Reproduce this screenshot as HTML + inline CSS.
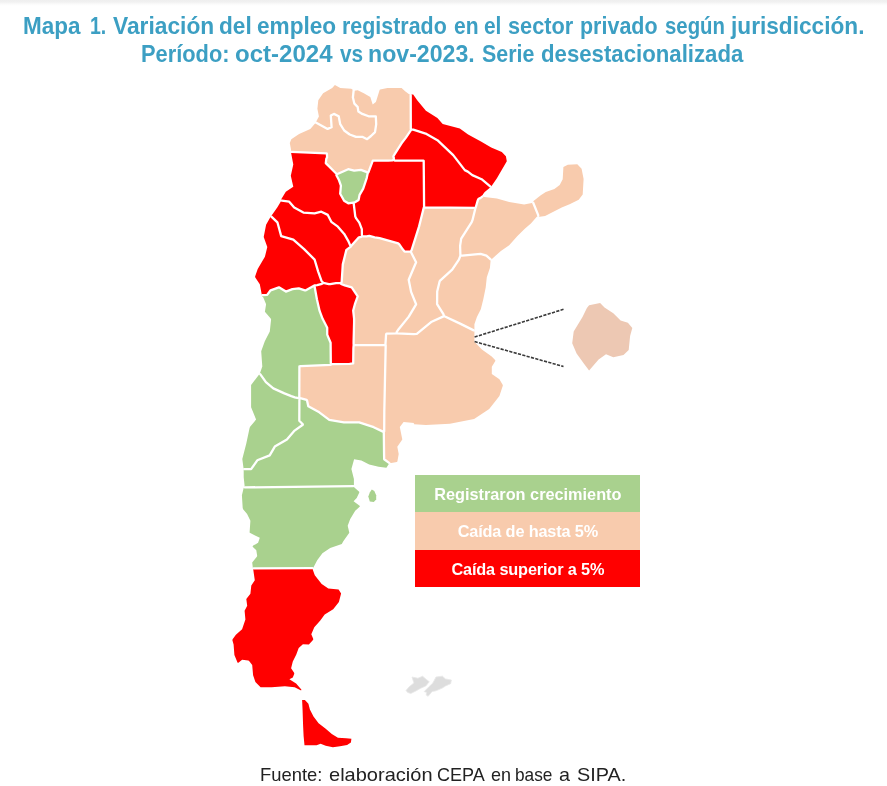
<!DOCTYPE html>
<html lang="es">
<head>
<meta charset="utf-8">
<title>Mapa 1</title>
<style>
html,body{margin:0;padding:0;background:#fff;}
body{width:887px;height:786px;position:relative;overflow:hidden;font-family:"Liberation Sans",sans-serif;}
.topbar{position:absolute;left:0;top:0;width:887px;height:6px;background:linear-gradient(#efefef 0,#f1f1f1 33%,#fafafa 66%,#fff 100%);}
.title{position:absolute;left:0;top:13px;width:887px;text-align:center;color:#3c9fc3;font-weight:bold;font-size:22px;line-height:26.8px;white-space:nowrap;height:60px;}

.w{position:absolute;white-space:nowrap;transform-origin:0 0;}
.legend{position:absolute;left:415.2px;top:475.2px;width:225.3px;color:#fff;font-weight:bold;font-size:16.3px;text-align:center;}
.legend div{height:37.2px;line-height:38.6px;white-space:nowrap;overflow:hidden;}
.l1{background:#A9D18E;height:37px !important;}
.l2{background:#F8CBAD;height:38px !important;}
#g2,#g3{letter-spacing:-0.15px;}
.l3{background:#FF0000;height:36.8px !important;}
.src{position:absolute;left:0;top:762.8px;width:887px;text-align:center;color:#222;font-size:19px;line-height:24px;white-space:nowrap;height:24px;}
</style>
</head>
<body>
<div class="topbar"></div>
<div class="title"><span class="w" style="left:23.0px;top:0px;transform:scale(1.022,1.045)">Mapa</span> <span class="w" style="left:90.1px;top:0px;transform:scale(0.888,1.045)">1.</span> <span class="w" style="left:113.0px;top:0px;transform:scale(1.035,1.045)">Variación</span> <span class="w" style="left:219.2px;top:0px;transform:scale(1.028,1.045)">del</span> <span class="w" style="left:256.6px;top:0px;transform:scale(1.028,1.045)">empleo</span> <span class="w" style="left:342.1px;top:0px;transform:scale(0.974,1.045)">registrado</span> <span class="w" style="left:453.7px;top:0px;transform:scale(0.957,1.045)">en</span> <span class="w" style="left:484.2px;top:0px;transform:scale(0.950,1.045)">el</span> <span class="w" style="left:507.7px;top:0px;transform:scale(0.988,1.045)">sector</span> <span class="w" style="left:580.3px;top:0px;transform:scale(0.976,1.045)">privado</span> <span class="w" style="left:665.0px;top:0px;transform:scale(0.926,1.045)">según</span> <span class="w" style="left:730.8px;top:0px;transform:scale(1.030,1.045)">jurisdicción.</span>
<span class="w" style="left:140.7px;top:28px;transform:scale(0.992,1.045)">Período:</span> <span class="w" style="left:234.7px;top:28px;transform:scale(1.093,1.045)">oct-2024</span> <span class="w" style="left:339.6px;top:28px;transform:scale(0.946,1.045)">vs</span> <span class="w" style="left:368.1px;top:28px;transform:scale(1.052,1.045)">nov-2023.</span> <span class="w" style="left:481.8px;top:28px;transform:scale(0.973,1.045)">Serie</span> <span class="w" style="left:541.4px;top:28px;transform:scale(1.009,1.045)">desestacionalizada</span></div>
<svg width="887" height="786" viewBox="0 0 887 786" style="position:absolute;left:0;top:0">
<path fill="#F8CBAD" d="M334.9,84.9 L332.2,88.1 L323.1,93.3 L318.3,100.3 L317.4,108.7 L318.9,116.4 L315.3,123.3 L310.3,128.9 L299.1,133.9 L291.3,139.3 L289.8,143.1 L291.1,150.1 L290.9,151.7 L326.7,153.3 L326.9,153.7 L327.1,157.2 L326.3,158.8 L325.8,163.1 L336.9,174.3 L348.2,169.2 L354.2,170.7 L360.9,169.9 L366.9,172.1 L367.7,173.3 L368.4,172.4 L372.8,160.7 L388.2,160.6 L392.4,160.3 L393.6,159.9 L393.8,159.3 L393.8,157.8 L393.3,156.8 L393.6,155.8 L402.3,142.2 L405.9,137.6 L411.1,129.9 L410.8,129.3 L410.8,95.3 L410.4,94.6 L409.1,94.2 L405.1,91.2 L401.6,87.9 L387.4,87.9 L380.2,89.4 L379.7,89.8 L375.9,101.9 L372.7,104.4 L370.3,97.1 L363.8,93.3 L357.7,90.3 L354.4,90.8 L351.2,88.8 L340.3,87.9Z"/>
<path fill="#FF0000" d="M410.9,94.4 L410.6,94.7 L410.9,95.3 L411.1,129.7 L413.3,129.7 L425.6,133.6 L437.4,140.2 L453.2,155.1 L464.8,170.1 L467.8,171.6 L472.3,175.1 L481.6,179.2 L490.9,186.9 L496.9,178.2 L506.8,161.3 L505.9,156.2 L501.8,151.9 L491.2,147.6 L481.4,141.7 L468.1,134.4 L459.8,128.4 L442.7,124.1 L437.4,118.1 L425.9,110.7 L417.2,100.3 L413.2,94.6Z"/>
<path fill="#FF0000" d="M411.7,129.7 L410.9,130.2 L406.1,137.6 L402.4,142.2 L393.7,155.8 L393.4,156.8 L393.9,157.8 L393.8,159.8 L394.9,160.6 L423.2,160.6 L423.7,160.8 L424.1,207.4 L475.7,207.7 L477.7,200.6 L478.6,198.8 L480.3,198.1 L482.7,196.3 L482.9,196.1 L482.8,194.6 L484.7,192.1 L490.8,187.1 L481.6,179.3 L472.3,175.2 L467.8,171.7 L464.8,170.2 L453.1,155.1 L437.4,140.3 L425.6,133.7 L413.3,129.8Z"/>
<path fill="#FF0000" d="M393.7,159.9 L392.4,160.4 L388.2,160.7 L372.8,160.8 L368.6,172.4 L367.6,173.6 L366.7,178.1 L363.2,188.6 L359.6,194.8 L358.6,199.9 L354.9,202.2 L353.6,202.7 L354.9,214.7 L355.3,216.6 L356.2,218.4 L359.6,223.1 L361.8,229.1 L361.9,235.1 L362.3,236.2 L366.6,236.3 L369.3,235.9 L374.7,237.3 L379.6,238.1 L398.2,243.3 L399.3,244.3 L402.7,249.3 L404.3,251.2 L405.2,251.7 L410.7,251.7 L411.6,250.2 L419.1,226.4 L423.6,207.9 L423.9,207.4 L423.6,160.8 L394.9,160.7Z"/>
<path fill="#FF0000" d="M290.9,151.8 L293.3,164.6 L290.8,175.8 L293.3,186.7 L285.8,191.8 L281.4,199.1 L281.4,200.7 L289.2,201.7 L294.2,207.6 L303.4,212.6 L314.6,213.3 L321.3,211.7 L327.8,214.9 L331.3,221.8 L337.9,226.7 L344.2,233.9 L348.2,240.8 L350.6,246.1 L351.2,246.2 L358.9,237.3 L361.2,236.9 L362.2,236.2 L361.8,235.1 L361.8,229.4 L359.2,222.6 L356.1,218.4 L355.2,216.6 L353.4,202.7 L348.3,203.3 L344.1,200.7 L340.2,193.7 L340.9,185.7 L338.8,179.7 L336.4,175.3 L336.8,174.3 L325.7,163.1 L326.2,158.8 L326.9,157.2 L326.7,153.4Z"/>
<path fill="#A9D18E" d="M348.2,169.3 L336.8,174.4 L336.6,175.3 L338.9,179.7 L341.1,185.7 L340.3,193.7 L344.2,200.7 L347.7,202.9 L348.6,203.2 L354.4,202.3 L358.4,199.9 L359.4,194.8 L363.1,188.6 L366.6,178.1 L367.6,173.4 L366.9,172.2 L360.9,170.1 L354.2,170.8Z"/>
<path fill="#FF0000" d="M281.3,200.8 L277.4,207.3 L271.1,216.2 L277.4,222.3 L281.1,235.9 L293.3,239.7 L304.1,249.1 L314.6,259.6 L318.1,271.3 L321.4,280.7 L323.4,282.9 L328.8,284.2 L331.1,284.1 L336.1,283.1 L340.6,283.2 L341.8,281.7 L342.8,264.4 L346.4,249.9 L350.8,246.6 L348.1,240.8 L344.1,233.9 L337.9,226.8 L331.2,221.8 L327.8,215.1 L321.3,211.8 L314.6,213.4 L303.4,212.7 L294.2,207.7 L289.2,201.8Z"/>
<path fill="#FF0000" d="M270.9,216.3 L266.1,224.8 L263.7,237.1 L267.3,247.1 L264.9,256.8 L257.7,268.9 L255.1,276.4 L255.3,277.6 L259.8,284.3 L261.9,295.2 L262.9,294.9 L267.2,294.9 L270.6,290.3 L278.9,287.3 L285.9,291.6 L292.4,289.1 L298.8,288.3 L304.9,290.3 L305.9,290.3 L314.8,285.3 L317.2,285.1 L321.9,283.9 L323.2,283.1 L322.9,282.4 L321.4,280.9 L320.6,278.7 L317.9,271.3 L314.4,259.6 L304.1,249.2 L293.3,239.8 L281.2,236.2 L280.7,235.3 L277.3,222.3Z"/>
<path fill="#A9D18E" d="M314.3,285.8 L305.9,290.4 L304.9,290.4 L298.8,288.4 L292.4,289.2 L285.9,291.7 L278.9,287.4 L270.6,290.4 L267.2,295.1 L262.9,295.1 L262.1,295.3 L262.3,296.8 L263.2,297.3 L266.1,304.2 L264.9,311.7 L270.7,318.6 L271.1,319.6 L269.8,331.4 L264.8,341.3 L261.2,351.2 L262.3,366.4 L259.8,373.8 L260.4,374.3 L265.9,382.2 L273.3,388.4 L284.4,393.4 L291.3,396.1 L294.8,397.3 L299.6,398.3 L299.8,397.9 L299.3,397.1 L299.4,366.4 L300.9,366.1 L330.3,364.9 L331.8,364.2 L330.8,363.2 L330.6,342.8 L327.2,334.6 L327.2,327.7 L322.6,318.8 L319.6,310.9 L316.9,299.2 L314.7,286.6Z"/>
<path fill="#FF0000" d="M323.3,283.1 L321.9,284.1 L317.2,285.2 L315.2,285.3 L314.6,285.9 L317.1,299.2 L319.7,310.9 L322.7,318.8 L327.3,327.7 L327.3,334.6 L330.7,342.8 L331.1,363.6 L331.9,364.2 L353.1,363.6 L353.6,345.6 L353.9,345.1 L353.6,344.3 L353.6,341.6 L354.1,322.2 L354.1,318.6 L353.2,310.6 L354.9,304.2 L357.7,296.3 L351.4,287.3 L344.8,285.4 L341.7,284.2 L340.6,283.3 L336.1,283.2 L331.1,284.2 L328.8,284.3Z"/>
<path fill="#F8CBAD" d="M368.7,236.1 L366.6,236.4 L362.2,236.3 L361.2,237.1 L358.9,237.4 L350.8,246.8 L346.7,249.7 L342.9,264.4 L341.9,281.7 L340.7,283.3 L341.7,284.1 L344.8,285.3 L351.7,287.3 L357.8,296.3 L355.1,304.2 L353.3,310.6 L354.2,318.6 L353.8,344.7 L354.1,344.9 L385.4,345.1 L386.1,334.3 L386.3,333.9 L386.9,333.7 L396.4,333.3 L396.8,331.8 L398.6,329.2 L408.8,316.6 L416.1,304.3 L411.1,291.9 L408.7,279.7 L416.1,262.1 L410.8,251.8 L405.2,251.8 L404.7,251.6 L402.9,249.8 L399.2,244.3 L398.2,243.4 L379.6,238.2Z"/>
<path fill="#F8CBAD" d="M423.9,207.6 L419.2,226.4 L411.7,250.2 L410.8,251.7 L416.2,262.2 L408.8,279.7 L411.2,291.9 L416.2,304.3 L408.9,316.6 L398.7,329.2 L396.8,332.1 L396.8,333.3 L413.8,334.1 L416.8,333.9 L431.7,321.7 L444.1,316.1 L443.4,314.2 L437.1,304.1 L437.2,291.6 L439.6,281.4 L440.4,280.3 L452.2,269.7 L458.9,259.6 L460.4,255.6 L460.1,245.8 L461.2,238.6 L471.7,222.2 L472.4,220.4 L475.4,208.6 L475.4,207.9 L475.1,207.8Z"/>
<path fill="#F8CBAD" d="M483.1,196.1 L480.3,198.2 L478.7,198.8 L477.8,200.6 L475.9,207.3 L475.6,207.8 L472.4,220.8 L467.1,229.9 L461.3,238.6 L460.2,245.8 L460.6,255.3 L462.3,255.6 L480.6,253.8 L486.4,255.6 L490.4,259.4 L491.1,259.7 L500.9,250.9 L509.2,245.3 L517.2,236.3 L524.8,228.7 L530.9,223.6 L536.8,216.8 L538.2,216.4 L538.2,215.1 L533.6,203.3 L532.8,202.3 L531.9,203.1 L524.1,204.6 L509.2,202.1 L496.9,198.6 L484.3,197.1Z"/>
<path fill="#F8CBAD" d="M577.3,164.3 L567.8,164.8 L563.4,167.1 L562.7,179.3 L559.7,184.9 L554.4,188.9 L545.8,191.9 L540.8,195.2 L533.2,201.2 L532.9,202.3 L533.7,203.3 L538.3,215.1 L538.4,216.6 L539.7,216.8 L545.1,215.9 L561.7,207.6 L569.6,204.3 L578.7,199.7 L582.7,194.4 L583.6,179.1 L581.6,168.8Z"/>
<path fill="#F8CBAD" d="M479.8,253.9 L462.3,255.7 L460.6,255.4 L458.9,259.8 L452.3,269.7 L439.9,280.9 L438.3,288.1 L437.7,289.3 L437.2,292.8 L437.2,304.1 L443.6,314.2 L444.2,316.1 L460.1,323.6 L473.7,330.4 L474.2,330.4 L474.4,329.9 L474.4,324.3 L476.9,316.9 L480.8,309.3 L483.3,299.3 L485.7,287.6 L486.8,277.2 L489.9,268.1 L490.6,260.6 L490.9,259.8 L486.4,255.7Z"/>
<path fill="#F8CBAD" d="M443.8,316.2 L431.7,321.8 L416.8,334.1 L406.3,333.9 L396.6,333.3 L391.1,333.8 L386.9,333.8 L386.2,334.3 L385.6,343.9 L385.8,348.1 L384.3,411.8 L384.2,431.3 L383.8,432.1 L384.1,455.9 L384.2,459.3 L389.4,463.3 L390.7,462.8 L391.4,462.9 L396.8,461.9 L397.4,461.4 L398.7,454.1 L397.3,446.8 L402.3,439.4 L399.8,427.1 L403.6,422.1 L414.1,423.1 L414.2,423.3 L413.8,423.4 L413.7,423.9 L414.2,424.3 L425.9,424.9 L449.9,423.7 L474.1,418.9 L489.2,408.9 L499.4,396.1 L502.8,385.8 L502.8,385.1 L499.4,379.2 L491.8,374.1 L491.8,366.7 L495.3,360.9 L495.3,360.2 L491.7,356.6 L481.9,349.4 L474.4,341.8 L474.4,332.1 L474.2,330.6 L473.7,330.6 L445.4,316.7Z"/>
<path fill="#F8CBAD" d="M354.1,345.1 L353.7,345.6 L353.4,360.7 L353.3,363.4 L353.1,363.7 L331.8,364.3 L330.3,365.1 L299.6,366.4 L299.4,397.1 L300.1,398.1 L306.6,399.9 L307.1,400.7 L308.3,406.3 L319.3,412.3 L329.3,419.8 L343.9,422.3 L359.2,422.3 L373.7,427.2 L383.7,432.1 L384.1,431.3 L384.2,411.8 L385.7,345.3Z"/>
<path fill="#A9D18E" d="M259.7,373.8 L251.1,384.9 L251.1,407.3 L256.1,419.6 L250.1,426.7 L249.6,427.9 L246.3,443.4 L242.3,459.1 L243.6,468.7 L244.1,469.2 L251.1,469.1 L257.3,460.3 L269.7,455.4 L274.8,446.6 L286.9,439.4 L294.6,430.6 L302.8,424.7 L302.8,424.3 L299.3,420.7 L299.4,398.3 L293.3,396.9 L284.4,393.6 L273.3,388.6 L265.8,382.2 L260.3,374.3Z"/>
<path fill="#A9D18E" d="M299.9,398.1 L299.4,398.9 L299.4,420.7 L302.9,424.3 L302.9,424.7 L294.6,430.7 L286.9,439.6 L274.8,446.7 L269.7,455.6 L257.3,460.4 L251.1,469.2 L243.7,469.2 L243.7,477.3 L244.6,485.7 L244.3,487.2 L244.8,487.4 L249.3,487.4 L353.9,486.1 L353.9,478.9 L351.4,469.1 L354.1,459.3 L361.4,460.4 L369.2,464.4 L378.6,466.7 L386.4,467.8 L389.3,463.3 L384.1,459.3 L383.8,432.6 L383.6,432.1 L373.7,427.3 L359.2,422.4 L343.9,422.4 L329.3,419.9 L319.3,412.4 L308.3,406.4 L307.8,405.4 L306.9,400.7 L306.6,400.1Z"/>
<path fill="#A9D18E" d="M353.9,486.2 L249.3,487.6 L244.8,487.6 L244.2,487.3 L243.6,488.2 L241.9,495.2 L242.7,507.9 L243.1,509.3 L247.1,514.1 L250.4,520.8 L249.6,532.4 L249.8,532.8 L259.8,537.8 L258.1,542.8 L253.2,545.6 L252.6,546.2 L252.7,546.7 L256.3,550.3 L257.2,555.9 L256.8,556.8 L252.2,562.4 L252.9,568.2 L253.4,568.4 L312.1,568.1 L312.9,568.4 L317.2,560.2 L322.4,553.2 L330.2,548.1 L341.8,543.9 L343.3,541.2 L349.3,532.7 L347.7,525.7 L350.1,519.3 L355.2,510.8 L359.9,506.6 L359.6,505.8 L353.6,501.3 L356.7,497.9 L359.3,492.4 L359.2,491.8 L354.1,487.3Z"/>
<path fill="#FF0000" d="M312.4,568.3 L253.1,568.4 L254.8,580.3 L251.3,585.4 L250.4,593.8 L246.3,599.1 L247.2,605.8 L244.6,610.8 L245.4,619.4 L242.1,629.3 L235.9,634.7 L232.6,639.2 L232.4,640.3 L233.6,644.4 L234.4,654.9 L237.6,662.7 L238.4,662.8 L242.1,659.8 L248.3,660.6 L249.1,660.9 L252.2,664.9 L253.1,675.2 L255.4,681.9 L260.6,687.2 L271.6,687.3 L284.9,686.3 L294.6,687.3 L300.6,690.3 L301.3,690.3 L301.4,689.8 L301.1,689.2 L296.1,683.4 L289.4,679.3 L292.8,677.6 L294.3,673.7 L294.1,672.7 L291.1,668.3 L292.8,661.4 L296.3,654.6 L298.7,647.9 L302.9,644.2 L308.9,644.6 L313.2,639.8 L313.2,638.8 L311.3,634.3 L314.3,627.2 L320.1,620.7 L324.7,614.4 L333.2,609.2 L338.9,602.1 L341.1,593.4 L338.6,589.4 L328.3,588.4 L321.7,583.9 L314.8,575.3 L312.8,569.7 L312.8,568.6Z"/>
<path fill="none" stroke="#fff" stroke-width="2.3" stroke-linejoin="round" stroke-linecap="round" d="M244.2,469.1 L251.1,469.1 L257.3,460.3 L269.7,455.4 L274.8,446.6 L286.9,439.4 L294.6,430.6 L302.8,424.7 L302.8,424.3 L299.3,420.7 L299.4,398.6M244.8,487.4 L353.4,486.1M253.6,568.3 L312.4,568.2M260.2,374.1 L265.9,382.2 L273.3,388.4 L284.4,393.4 L291.3,396.1 L294.8,397.3 L299.6,398.3 L299.8,397.9 L299.3,397.1 L299.4,366.4 L300.9,366.1 L330.3,364.9 L331.8,364.2 L330.8,363.2 L330.6,342.8 L327.2,334.6 L327.2,327.7 L322.6,318.8 L319.6,310.9 L316.9,299.2 L314.5,286.0M262.5,295.1 L267.2,294.9 L270.6,290.3 L278.9,287.3 L285.9,291.6 L292.4,289.1 L298.8,288.3 L304.9,290.3 L305.9,290.3 L314.8,285.3 L317.2,285.1 L321.9,283.9 L323.1,283.1M271.4,216.6 L277.4,222.3 L281.2,236.1 L293.3,239.7 L304.1,249.1 L314.6,259.6 L318.1,271.3 L321.4,280.7 L323.4,282.9 L328.8,284.2 L330.2,284.2 L336.1,283.1 L340.6,283.2 L341.7,281.9 L342.8,264.4 L346.4,249.9 L350.8,246.6M281.9,200.7 L289.2,201.7 L294.2,207.6 L303.4,212.6 L314.6,213.3 L321.3,211.7 L327.8,214.9 L331.3,221.8 L337.9,226.7 L344.2,233.9 L348.2,240.8 L350.3,245.6 L350.9,246.3 L358.9,237.3 L361.2,236.9 L362.0,236.3M291.4,151.8 L326.7,153.3 L326.9,153.7 L327.1,157.2 L326.3,158.8 L325.8,163.1 L336.9,174.3 L348.2,169.2 L354.2,170.7 L360.9,169.9 L366.9,172.1 L367.7,173.3 L368.4,172.4 L372.8,160.7 L388.2,160.6 L392.4,160.3 L393.6,159.9 L393.8,159.3 L393.8,157.8 L393.3,156.8 L393.6,155.8 L402.3,142.2 L405.9,137.6 L411.1,129.9 L410.8,129.3 L410.7,95.1M300.2,398.1 L306.6,399.9 L307.1,400.7 L308.3,406.3 L319.3,412.3 L329.3,419.8 L343.9,422.3 L359.2,422.3 L373.7,427.2 L383.5,431.9M332.2,364.2 L349.6,363.8 L353.2,363.4 L353.4,348.3 L353.6,345.6 L353.9,345.1 L353.6,344.3 L353.6,341.6 L354.1,322.2 L354.1,318.6 L353.2,310.6 L354.9,304.2 L357.7,296.3 L351.7,287.4 L344.8,285.4 L341.7,284.2 L340.7,283.5M353.2,202.7 L348.3,203.3 L344.1,200.7 L340.2,193.7 L340.9,185.7 L338.8,179.7 L336.4,175.3 L336.6,174.5M354.3,344.9 L385.4,345.1 L386.1,334.3 L386.3,333.9 L386.9,333.7 L396.4,333.3 L396.8,331.8 L398.6,329.2 L408.8,316.6 L416.1,304.3 L411.1,291.9 L408.7,279.7 L416.1,262.2 L410.9,252.0M367.6,173.7 L366.7,178.1 L363.2,188.6 L359.6,194.8 L358.6,199.9 L354.9,202.2 L353.6,202.7 L355.3,216.6 L356.2,218.4 L359.3,222.6 L361.8,229.1 L361.9,235.1 L362.3,236.2 L366.6,236.3 L369.3,235.9 L374.7,237.3 L379.6,238.1 L398.2,243.3 L399.3,244.3 L402.7,249.3 L404.3,251.2 L405.2,251.7 L410.7,251.7 L411.6,250.2 L419.1,226.4 L423.8,207.6M385.7,345.2 L384.3,411.8 L384.2,431.3 L383.8,432.1 L384.1,455.9 L384.2,459.3 L389.1,462.9M394.0,159.9 L394.9,160.6 L423.2,160.6 L423.7,160.8 L424.1,207.4 L475.4,207.8 L475.8,207.3 L477.7,200.6 L478.6,198.8 L480.3,198.1 L482.6,196.3M396.9,333.3 L413.8,334.1 L416.8,333.9 L431.7,321.7 L444.1,316.1 L443.4,314.2 L437.1,304.1 L437.2,291.6 L439.6,281.4 L440.4,280.3 L452.2,269.7 L458.9,259.6 L460.4,255.6 L460.1,245.8 L461.2,238.6 L471.7,222.2 L472.4,220.4 L475.4,208.2M411.4,129.7 L413.3,129.7 L425.6,133.6 L437.4,140.2 L453.2,155.1 L464.8,170.1 L467.8,171.6 L472.3,175.1 L481.6,179.2 L490.5,186.6M444.4,316.2 L460.1,323.6 L473.7,330.4M460.8,255.4 L462.3,255.6 L480.6,253.8 L486.4,255.6 L490.6,259.4M538.2,215.9 L538.2,215.1 L533.2,202.7"/>
<polyline fill="none" stroke="#fff" stroke-width="2.3" stroke-linejoin="round" stroke-linecap="round" points="353.7,89.8 352.9,97.4 354.4,103.7 357.6,106.8 358.4,111.6 362.3,113.9 368.6,116.3 375.8,116.3 376.2,124.2 375.0,132.1 371.0,136.0 367.1,139.2 362.3,136.8 356.0,136.8 349.7,134.5 344.2,130.5 340.2,124.2 338.7,116.3 333.9,113.9 330.8,115.5 331.6,127.3 327.6,128.9 315.8,122.6"/>
<polygon fill="#A9D18E" points="371.8,489.5 374.3,491.0 376.2,495.2 376.2,499.4 373.8,501.9 369.8,501.4 368.3,496.4 369.8,492.4"/>
<polygon fill="#FF0000" points="302.1,700.1 304.9,700.1 308.4,703.8 309.9,709.4 313.5,716.6 318.6,723.2 325.7,728.8 331.8,733.9 337.9,737.7 346.1,738.2 351.4,738.8 350.9,742.5 347.1,745.1 340.0,746.3 332.9,747.3 325.7,745.8 320.6,743.7 316.6,745.3 310.5,745.3 304.5,745.3 303.6,735.9 303.1,725.7 302.6,710.5"/>
<polygon fill="#EDC8B3" points="589.1,305.2 600.1,303.0 604.5,307.4 613.3,313.2 620.6,320.6 627.9,322.8 632.3,327.9 630.1,336.0 628.7,349.9 623.5,355.0 613.3,357.2 606.0,354.3 598.6,359.4 589.1,370.4 584.0,363.8 576.6,353.5 572.2,343.3 573.7,331.6 582.5,316.9 586.9,308.1"/>
<polygon fill="#dddddd" stroke="#e9e9e9" stroke-width="0.8" points="406.0,690.4 409.2,686.8 413.9,682.9 412.0,677.0 417.9,678.2 422.6,676.2 426.6,679.7 429.3,681.7 425.8,686.0 420.3,688.4 415.5,691.2 410.8,693.5 407.6,692.4"/>
<polygon fill="#dddddd" stroke="#e9e9e9" stroke-width="0.8" points="424.2,691.6 428.9,686.8 432.9,682.9 436.0,677.0 442.4,676.2 445.5,678.9 451.4,680.1 450.6,683.7 445.5,686.0 442.4,688.0 436.0,690.8 432.1,691.6 428.1,696.3 426.2,695.1 426.6,692.4"/>
<g stroke="#3a3a3a" stroke-width="1.6" stroke-dasharray="3.2 1.3" fill="none">
<line x1="474.6" y1="337" x2="563.5" y2="309.3"/>
<line x1="474.6" y1="341.6" x2="563.5" y2="366.5"/>
</g>
</svg>
<div class="legend"><div class="l1"><span id="g1">Registraron crecimiento</span></div><div class="l2"><span id="g2">Caída de hasta 5%</span></div><div class="l3"><span id="g3">Caída superior a 5%</span></div></div>
<div class="src"><span class="w" style="left:260.3px;top:0px;transform:scale(0.968,1)">Fuente:</span> <span class="w" style="left:329.0px;top:0px;transform:scale(1.054,1)">elaboración</span> <span class="w" style="left:437.2px;top:0px;transform:scale(0.949,1)">CEPA</span> <span class="w" style="left:491.1px;top:0px;transform:scale(0.947,1)">en</span> <span class="w" style="left:515.4px;top:0px;transform:scale(0.908,1)">base</span> <span class="w" style="left:558.6px;top:0px;transform:scale(1.040,1)">a</span> <span class="w" style="left:576.7px;top:0px;transform:scale(1.044,1)">SIPA.</span></div>
</body>
</html>
